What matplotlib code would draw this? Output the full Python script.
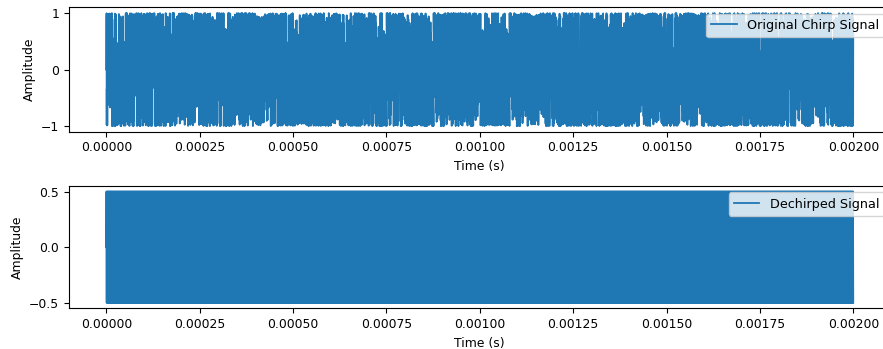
import numpy as np
import matplotlib.pyplot as plt

# signal settings (2 ms long, unit and half amplitude)
duration = 0.002
fs = 3e6
f_start = 0.0
f_stop = 11.1246e9
chirp_amp = 1.0
beat_freq = fs / 4
dechirp_amp = 0.5

t = np.arange(0, duration, 1 / fs)
k = (f_stop - f_start) / duration
phase = 2 * np.pi * (f_start * t + 0.5 * k * t ** 2)
chirp = chirp_amp * np.sin(phase)

# mix with conjugate reference chirp -> constant beat tone
sig = np.exp(1j * phase)
ref = np.exp(1j * (phase - 2 * np.pi * beat_freq * t))
dechirped = dechirp_amp * np.imag(sig * np.conj(ref))

plt.rcParams['font.size'] = 8.9

fig = plt.figure(figsize=(8.83, 3.49), dpi=100)
ax1 = fig.add_axes([0.0781, 0.6226, 0.9305, 0.356])
ax2 = fig.add_axes([0.0781, 0.1166, 0.9305, 0.3504])

ax1.plot(t, chirp, lw=1.3, label="Original Chirp Signal")
ax1.set_xlabel("Time (s)")
ax1.set_ylabel("Amplitude")
ax1.set_yticks([-1, 0, 1])
ax1.legend(loc="upper right", fontsize=9.2)

ax2.plot(t, dechirped, lw=1.3, label="Dechirped Signal")
ax2.set_xlabel("Time (s)")
ax2.set_ylabel("Amplitude")
ax2.set_yticks([-0.5, 0, 0.5])
ax2.legend(loc="upper right", fontsize=9.2)

fig.savefig("out.png", dpi=100)
